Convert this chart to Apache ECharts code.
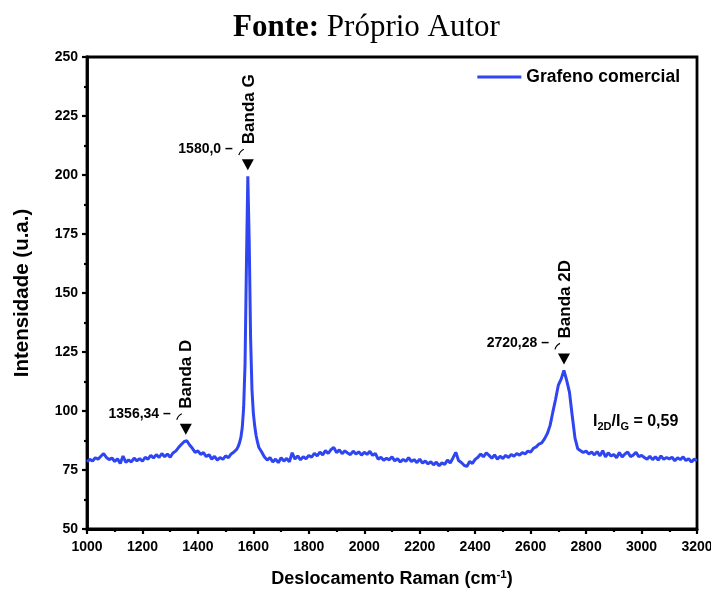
<!DOCTYPE html>
<html><head><meta charset="utf-8">
<script src="https://cdn.jsdelivr.net/npm/echarts@6/dist/echarts.min.js"></script>
<style>html,body{margin:0;padding:0;background:#fff}#c{width:711px;height:590px}</style>
</head><body><div id="c"></div>
<script>
// Raman shift (cm^-1)
var ramanShift = [
1000,1010,1020,1030,1040,1050,1060,1070,1080,1090,
1100,1110,1120,1130,1140,1150,1160,1170,1180,1190,
1200,1210,1220,1230,1240,1250,1260,1270,1280,1290,
1300,1310,1320,1330,1340,1350,1360,1370,1380,1390,
1400,1410,1420,1430,1440,1450,1460,1470,1480,1490,
1500,1510,1520,1530,
1540,1545,1550,1555,1560,1565,1570,1575,1580,1585,1590,1595,1600,1605,1610,1615,1620,
1630,1640,1650,1660,1670,1680,1690,
1700,1710,1720,1730,1740,1750,1760,1770,1780,1790,
1800,1810,1820,1830,1840,1850,1860,1870,1880,1890,
1900,1910,1920,1930,1940,1950,1960,1970,1980,1990,
2000,2010,2020,2030,2040,2050,2060,2070,2080,2090,
2100,2110,2120,2130,2140,2150,2160,2170,2180,2190,
2200,2210,2220,2230,2240,2250,2260,2270,2280,2290,
2300,2310,2320,2330,2340,2350,2360,2370,2380,2390,
2400,2410,2420,2430,2440,2450,2460,2470,2480,2490,
2500,2510,2520,2530,2540,2550,2560,2570,2580,2590,
2600,2610,2620,2630,2640,2650,2660,2670,2680,2690,
2700,2710,2720,2730,2740,2750,2760,2770,2780,2790,
2800,2810,2820,2830,2840,2850,2860,2870,2880,2890,
2900,2910,2920,2930,2940,2950,2960,2970,2980,2990,
3000,3010,3020,3030,3040,3050,3060,3070,3080,3090,
3100,3110,3120,3130,3140,3150,3160,3170,3180,3190,
3200];
// Intensity (u.a.)
var intensity = [
78.5,79.5,78.8,80.2,79.6,80.8,82.0,80.3,79.4,80.1,
78.6,79.7,77.8,80.9,78.2,79.3,78.4,80.0,78.9,79.8,
78.7,80.4,79.6,81.2,80.1,81.5,80.3,82.0,80.6,81.8,
80.4,82.2,83.0,84.5,85.8,87.0,87.4,85.6,84.2,82.5,
83.1,81.6,82.4,80.7,81.5,79.6,80.8,79.2,80.3,79.5,
81.0,80.2,81.8,82.6,
83.8,84.9,86.5,88.8,93.0,101.5,120.0,162.0,199.5,172.0,131.0,109.0,99.0,93.5,89.5,86.8,84.5,
82.6,80.5,79.2,80.3,78.4,79.6,78.1,
80.2,78.8,79.9,78.5,82.3,79.6,81.0,79.3,80.6,79.8,
81.2,80.4,82.1,81.0,82.6,81.4,83.2,82.0,83.6,84.6,
82.4,83.5,81.9,83.1,82.2,81.5,83.0,81.8,82.7,81.3,
82.5,81.6,82.9,81.2,82.0,79.6,80.4,79.1,80.0,79.3,
80.6,78.9,79.8,78.4,79.5,78.7,80.2,78.6,79.4,78.1,
79.6,77.9,78.8,77.6,78.5,77.2,78.3,76.8,78.0,77.4,
79.2,78.0,80.1,82.5,79.0,78.2,77.0,76.5,78.6,77.8,
79.5,80.4,81.8,80.6,82.3,81.2,80.0,81.4,79.6,80.8,
79.9,81.2,80.3,81.6,80.8,82.0,81.3,82.4,81.8,83.0,
82.6,84.2,84.8,86.0,86.5,88.2,90.4,93.8,99.5,105.0,
111.0,113.5,117.2,113.0,108.0,98.0,88.5,84.0,83.2,82.4,
83.0,81.8,82.6,81.4,82.8,81.0,83.2,80.6,82.3,80.9,
81.6,80.2,82.4,80.5,81.8,82.6,80.7,81.3,82.5,80.6,
81.2,80.3,79.6,80.8,79.4,80.6,79.2,81.0,79.5,80.3,
79.7,80.4,78.9,80.2,79.4,80.6,79.0,79.8,78.4,79.6,
78.9];
var xTicks = [1000,1200,1400,1600,1800,2000,2200,2400,2600,2800,3000,3200];
var yTicks = [50,75,100,125,150,175,200,225,250];
// band annotations
var bandNames = ['Banda D','Banda G','Banda 2D'];
var bandPos = [1356.34, 1580.0, 2720.28];
var bandLabel = ['1356,34','1580,0','2720,28'];
var bandPeak = [87.4, 199.5, 117.2];
var ratioText = ['2D','G','0,59'];

var seriesData = ramanShift.map(function(x,i){return [x, intensity[i]];});
var chart = echarts.init(document.getElementById('c'));
var FONT = 'Liberation Sans';
var blue = '#2f45f2';
var axisCommon = {
  axisLine:{show:true, onZero:false, lineStyle:{color:'#000', width:2.8}},
  axisTick:{show:true, inside:false, length:5, lineStyle:{color:'#000', width:2.2}},
  minorTick:{show:true, splitNumber:2, length:3, lineStyle:{color:'#000', width:2.2}},
  splitLine:{show:false},
  axisLabel:{color:'#000', fontFamily:FONT, fontWeight:'bold', fontSize:14,
    formatter:function(v){return String(v);}}
};
var option = {
  animation:false,
  backgroundColor:'#fff',
  title:{
    text:'{b|Fonte: }{n|Próprio Autor}', left:228, top:7,
    textStyle:{fontWeight:'normal', rich:{
      b:{fontFamily:'Liberation Serif', fontWeight:'bold', fontSize:31, color:'#000'},
      n:{fontFamily:'Liberation Serif', fontWeight:'normal', fontSize:31, color:'#000'}}}
  },
  grid:{left:87, right:14, top:57, bottom:61, show:true, borderColor:'#000', borderWidth:2.8,
    outerBoundsMode:'none', containLabel:false},
  legend:{
    right:26, top:63, itemWidth:44, itemHeight:3, itemGap:5, icon:'rect',
    textStyle:{fontFamily:FONT, fontWeight:'bold', fontSize:17.5, color:'#000'},
    data:['Grafeno comercial']
  },
  xAxis:[Object.assign({}, axisCommon, {
    type:'value', min:xTicks[0], max:xTicks[xTicks.length-1], interval:200,
    name:'{a|Deslocamento Raman (cm}{s|-1}{a|)}', nameLocation:'middle', nameGap:40,
    nameTextStyle:{rich:{
      a:{fontFamily:FONT, fontWeight:'bold', fontSize:18, color:'#000'},
      s:{fontFamily:FONT, fontWeight:'bold', fontSize:11.5, color:'#000', verticalAlign:'top', padding:[0,0,9,0]}}},
    axisLabel:Object.assign({}, axisCommon.axisLabel, {margin:11})
  })],
  yAxis:[Object.assign({}, axisCommon, {
    type:'value', min:yTicks[0], max:yTicks[yTicks.length-1], interval:25,
    name:'Intensidade (u.a.)', nameLocation:'middle', nameGap:54,
    nameTextStyle:{fontFamily:FONT, fontWeight:'bold', fontSize:20.5, color:'#000'},
    axisLabel:Object.assign({}, axisCommon.axisLabel, {margin:9})
  })],
  series:[{
    name:'Grafeno comercial', type:'line', data:seriesData, showSymbol:false, symbol:'none',
    lineStyle:{color:blue, width:3}, itemStyle:{color:blue}, smooth:false
  }]
};
chart.setOption(option);

// annotations placed via data->pixel conversion
var g = [];
for (var i=0;i<bandNames.length;i++){
  var p = chart.convertToPixel({gridIndex:0}, [bandPos[i], bandPeak[i]]);
  var tipY = p[1]-6;
  var topY = tipY-11;
  g.push({type:'polygon', shape:{points:[[p[0]-6,topY],[p[0]+6,topY],[p[0],tipY]]}, style:{fill:'#000'}});
  g.push({type:'text', x:p[0]+1, y:topY-15, rotation:Math.PI/2,
    style:{text:bandNames[i], fontFamily:FONT, fontWeight:'bold', fontSize:17, fill:'#000',
      align:'left', verticalAlign:'middle'}});
  g.push({type:'text', x:p[0]-15, y:topY-10,
    style:{text:bandLabel[i]+' –', fontFamily:FONT, fontWeight:'bold', fontSize:14, fill:'#000',
      align:'right', verticalAlign:'middle'}});
  g.push({type:'bezierCurve', shape:{x1:p[0]-9,y1:topY-4,x2:p[0]-4,y2:topY-10,cpx1:p[0]-8,cpy1:topY-8},
    style:{stroke:'#000', lineWidth:1.2, fill:null}});
}
var rp = chart.convertToPixel({gridIndex:0}, [2825, 95.3]);
g.push({type:'text', x:rp[0], y:rp[1],
  style:{text:'{m|I}{s|'+ratioText[0]+'}{m|/I}{s|'+ratioText[1]+'}{m| = '+ratioText[2]+'}', verticalAlign:'middle',
    rich:{m:{fontFamily:FONT, fontWeight:'bold', fontSize:16, fill:'#000'},
          s:{fontFamily:FONT, fontWeight:'bold', fontSize:11, fill:'#000', padding:[9,0,0,0]}}}});
chart.setOption({graphic:g});
</script></body></html>
